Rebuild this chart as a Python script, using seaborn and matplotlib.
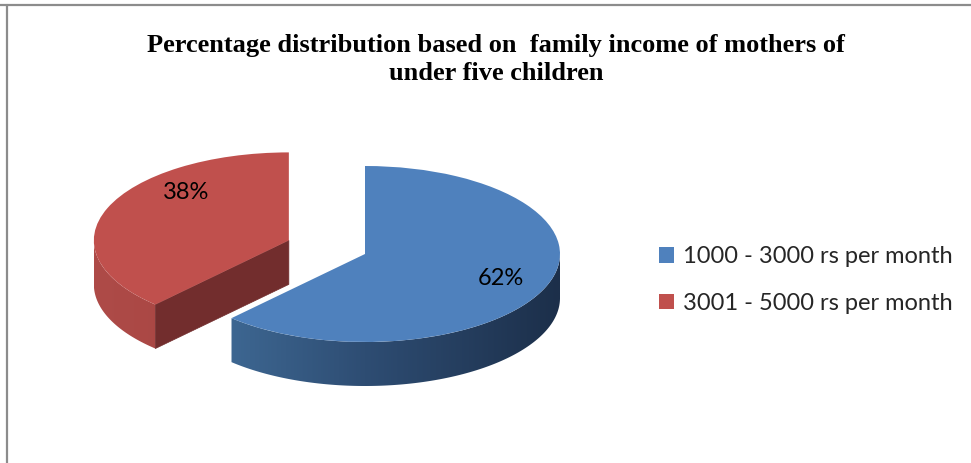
import numpy as np
import matplotlib
matplotlib.use("Agg")
import matplotlib.pyplot as plt
from matplotlib.patches import Polygon
from matplotlib.lines import Line2D
from matplotlib.colors import LinearSegmentedColormap
import seaborn as sns

# Family income groups and their share of mothers (percent)
categories = ["1000 - 3000 rs per month", "3001 - 5000 rs per month"]
shares = [62, 38]
slice_colors = ["#4F81BD", "#C0504D"]
pct_labels = ["62%", "38%"]
title_lines = ["Percentage distribution based on  family income of mothers of",
               "under five children"]

sns.set_theme(style="white")
plt.rcParams["font.family"] = ["Lato", "DejaVu Sans"]

W, H = 971, 463
fig = plt.figure(figsize=(W / 100, H / 100), dpi=100)
fig.patch.set_facecolor("white")
ax = fig.add_axes([0, 0, 1, 1])

# pie drawn in unit radius; x scale 195 px per unit, y scale 88 px per unit (tilted view)
cx_px, cy_px, rx_px, ry_px = 365, 254, 195, 88
depth = 44 / ry_px

wedges, _texts, autotexts = ax.pie(
    shares, colors=slice_colors, startangle=90, counterclock=False,
    explode=[0, 0.42], autopct="%d%%", pctdistance=0.75, radius=1,
    wedgeprops=dict(linewidth=0, zorder=3), textprops=dict(fontsize=17, color="black"))
for t, s in zip(autotexts, pct_labels):
    t.set_text(s)
    t.set_zorder(5)

wall_shades = {0: ["#44729F", "#2E4D73", "#1C2F4A"], 1: ["#AE4B48", "#A3413E", "#983C39"]}
cut_colors = {0: "#1F3450", 1: "#722D2D"}

for i, w in enumerate(wedges):
    cx, cy = w.center
    t = np.radians(np.linspace(w.theta1, w.theta2, 600))
    t = t[np.sin(t) < 0]
    if len(t) > 1:
        top = np.column_stack([cx + np.cos(t), cy + np.sin(t)])
        bottom = top[::-1] - [0, depth]
        wall = Polygon(np.vstack([top, bottom]), closed=True, facecolor="none",
                       edgecolor="none")
        ax.add_patch(wall)
        cmap = LinearSegmentedColormap.from_list(f"wall{i}", wall_shades[i])
        grad = np.linspace(0, 1, 256)[None, :]
        img = ax.imshow(grad, cmap=cmap, aspect="auto", interpolation="bilinear",
                        extent=(cx - 1, cx + 1, cy - 1 - depth, cy), zorder=1)
        img.set_clip_path(wall)
    # radial cut faces facing the viewer
    for ang, sgn in ((w.theta1, -1), (w.theta2, 1)):
        a = np.radians(ang)
        if np.sin(a + sgn * np.pi / 2) < -1e-6:
            ex, ey = cx + np.cos(a), cy + np.sin(a)
            face = [(cx, cy), (ex, ey), (ex, ey - depth), (cx, cy - depth)]
            ax.add_patch(Polygon(face, closed=True, facecolor=cut_colors[i],
                                 edgecolor=cut_colors[i], linewidth=0.5, zorder=2))

# label of the smaller slice sits nearer its upper part
rc = wedges[1].center
ang = np.radians(134)
autotexts[1].set_position((rc[0] + 0.76 * np.cos(ang), rc[1] + 0.76 * np.sin(ang)))

ax.set_aspect("auto")
ax.set_xlim(-cx_px / rx_px, (W - cx_px) / rx_px)
ax.set_ylim(-(H - cy_px) / ry_px, cy_px / ry_px)
ax.axis("off")

leg = ax.legend(wedges, categories, loc="center left",
                bbox_to_anchor=(659 / W, 1 - 280 / H), bbox_transform=fig.transFigure,
                frameon=False, fontsize=17, handlelength=0.65, handleheight=0.65,
                handletextpad=0.35, labelspacing=1.08, borderpad=0, borderaxespad=0)

for yb, line in zip((52, 80), title_lines):
    fig.text(496 / W, 1 - yb / H, line, ha="center", va="baseline",
             fontsize=19, fontweight="bold", family="Liberation Serif", color="black")

# outer chart border
fig.add_artist(Line2D([0, 1], [1 - 5 / H, 1 - 5 / H], transform=fig.transFigure,
                      color="#8C8C8C", lw=1.6))
fig.add_artist(Line2D([7 / W, 7 / W], [0, 1 - 5 / H], transform=fig.transFigure,
                      color="#8C8C8C", lw=1.6))

fig.savefig("out.png", dpi=100, facecolor="white")
